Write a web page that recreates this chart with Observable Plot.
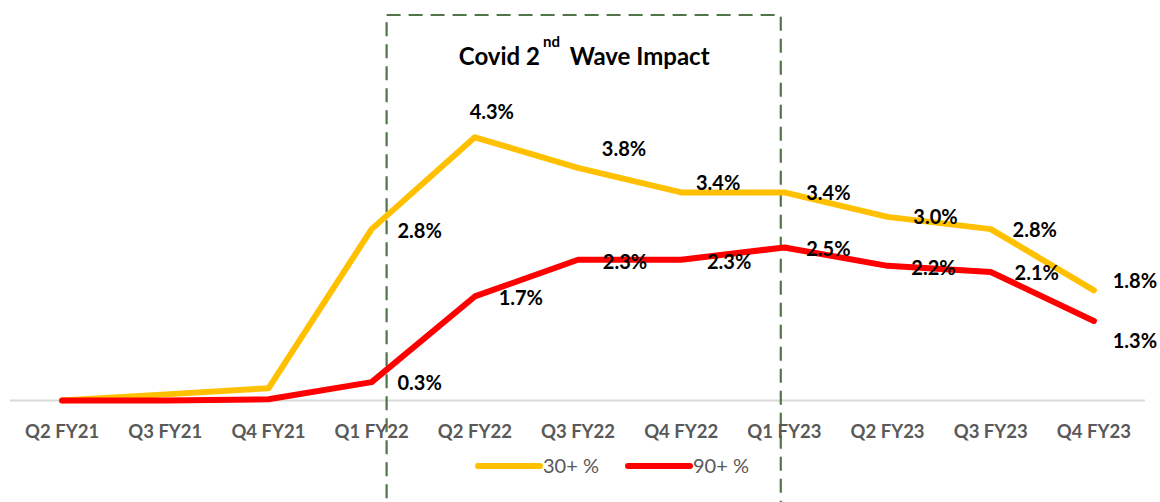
<!DOCTYPE html>
<html><head><meta charset="utf-8">
<script src="https://cdn.jsdelivr.net/npm/d3@7"></script>
<script src="https://cdn.jsdelivr.net/npm/@observablehq/plot@0.6"></script>
<style>
body{margin:0;background:#fff;}
#chart{position:relative;width:1160px;height:502px;overflow:hidden;}
</style>
</head><body><div id="chart"></div>
<script>
// ---- data ----
const quarters = ["Q2 FY21","Q3 FY21","Q4 FY21","Q1 FY22","Q2 FY22","Q3 FY22","Q4 FY22","Q1 FY23","Q2 FY23","Q3 FY23","Q4 FY23"];
const dpd30 = [0, 0.1, 0.2, 2.8, 4.3, 3.8, 3.4, 3.4, 3.0, 2.8, 1.8];
const dpd90 = [0, 0.0, 0.02, 0.3, 1.7, 2.3, 2.3, 2.5, 2.2, 2.1, 1.3];
const seriesNames = ["30+ %", "90+ %"];
const labelFromIndex = 3; // value labels shown from Q1 FY22 onwards
const covidTitle = "Covid 2nd Wave Impact";
const covidStart = 3.15, covidEnd = 6.97; // in quarter-index units

// ---- layout / style ----
const colors = ["#FFC000", "#FF0000"];
const offsets30 = {3:[48,2],4:[17,-25],5:[46,-18],6:[37,-9],7:[44,1],8:[48,1],9:[44,1],10:[41,-9]};
const offsets90 = {3:[48,1],4:[46,2],5:[47,3],6:[48,3],7:[44,2],8:[46,3],9:[46,2],10:[41,21]};

const rows30 = dpd30.map((v, i) => ({i, v, s: seriesNames[0]}));
const rows90 = dpd90.map((v, i) => ({i, v, s: seriesNames[1]}));

function labelMarks(rows, offs) {
  return rows.filter(d => d.i >= labelFromIndex).map(d => Plot.text([d], {
    x: "i", y: "v", text: r => r.v.toFixed(1) + "%",
    dx: offs[d.i][0], dy: offs[d.i][1],
    fill: "#000", fontWeight: "bold", fontSize: 20, textAnchor: "middle"
  }));
}

const plot = Plot.plot({
  width: 1160, height: 502,
  marginLeft: 10, marginRight: 15, marginTop: 15, marginBottom: 102,
  style: {fontFamily: "Lato, 'Open Sans', sans-serif", color: "#595959", background: "#fff"},
  x: {domain: [-0.5, quarters.length - 0.5], axis: null},
  y: {domain: [0, 6.29], axis: null},
  marks: [
    Plot.ruleY([0], {stroke: "#d9d9d9", strokeWidth: 2}),
    Plot.rect([{x1: covidStart, x2: covidEnd, y1: 6.29, y2: -2}], {
      x1: "x1", x2: "x2", y1: "y1", y2: "y2",
      fill: "none", stroke: "#4F7548", strokeWidth: 2.2, strokeDasharray: "14,8"
    }),
    Plot.axisX({ticks: d3.range(quarters.length), tickFormat: i => quarters[i],
      tickSize: 0, tickPadding: 24, fontSize: 18.5, fontWeight: "bold", fill: "#595959"}),
    Plot.line(rows30, {x: "i", y: "v", stroke: colors[0], strokeWidth: 6, strokeLinejoin: "round"}),
    Plot.line(rows90, {x: "i", y: "v", stroke: colors[1], strokeWidth: 6, strokeLinejoin: "round"}),
    ...labelMarks(rows30, offsets30),
    ...labelMarks(rows90, offsets90),
    Plot.text([covidTitle], {x: (covidStart + covidEnd) / 2, y: 5.6, text: d => d,
      fill: "#000", fontWeight: "bold", fontSize: 24, textAnchor: "middle"})
  ]
});

// superscript in the annotation title
d3.select(plot).selectAll("text").each(function() {
  if (this.textContent === covidTitle) {
    const t = d3.select(this);
    t.text(null);
    t.append("tspan").text("Covid 2");
    t.append("tspan").attr("dx", 3).attr("dy", -18).attr("font-size", 15).text("nd");
    t.append("tspan").attr("dx", 4).attr("dy", 18).text(" Wave Impact");
  }
});

// legend
const svg = d3.select(plot);
const lg = svg.append("g").attr("font-family", "Lato, 'Open Sans', sans-serif")
  .attr("font-size", 20).attr("fill", "#595959").attr("text-anchor", "start");
const legendItems = [{x: 478}, {x: 628}];
legendItems.forEach((it, k) => {
  lg.append("line").attr("x1", it.x).attr("x2", it.x + 62).attr("y1", 466).attr("y2", 466)
    .attr("stroke", colors[k]).attr("stroke-width", 6).attr("stroke-linecap", "round");
  lg.append("text").attr("x", it.x + 65).attr("y", 473).attr("text-anchor", "start").text(seriesNames[k]);
});

document.getElementById("chart").appendChild(plot);
</script>
</body></html>
